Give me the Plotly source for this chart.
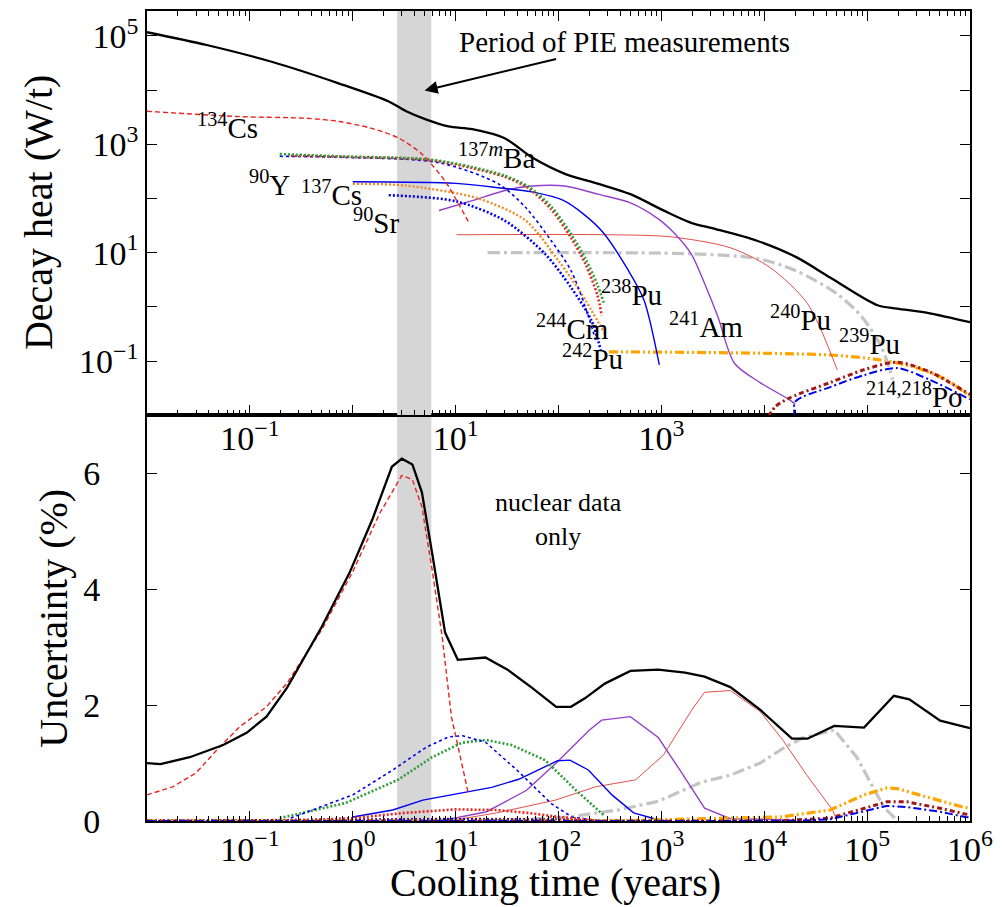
import math
import plotly.graph_objects as go

FONT = "Liberation Serif"

# ---------------- top panel : decay heat (W/t) ----------------
tot_t = [0.01, 0.038, 0.166, 0.74, 2.24, 3.31, 5.13, 8.5, 14.5, 30, 55, 117, 245, 500, 1070, 1950, 3310, 8500, 20900, 43700, 126000, 195000, 407000, 1000000]
tot_q = [117000, 68000, 33000, 13200, 6170, 4070, 2880, 2140, 1900, 1290, 575, 282, 186, 120, 59, 35.5, 27.5, 16.6, 8.1, 3.47, 1.07, 0.93, 0.76, 0.52]

cs134_t = [0.01, 0.079, 0.355, 0.74, 1.55, 2.82, 4.7, 7.9, 10.7, 13.5]
cs134_q = [4070, 3240, 3020, 2630, 1950, 1290, 660, 209, 79, 35.5]

ba137m_t = [0.195, 0.74, 5.5, 14.5, 30, 51, 85, 132, 182, 240, 275]
ba137m_q = [660, 600, 525, 380, 263, 166, 71, 22.4, 7.9, 2.5, 1.2]

y90_t = [0.25, 0.74, 5.5, 14.5, 30, 51, 85, 132, 182, 240, 263]
y90_q = [615, 590, 513, 363, 251, 155, 63, 19, 6.3, 1.6, 0.69]

cm244_t = [0.195, 0.74, 6.9, 26, 48, 85, 132, 182, 229]
cm244_q = [600, 575, 457, 186, 68, 16.6, 4.7, 1.0, 0.245]

cs137_t = [1.0, 3.2, 16.6, 48, 100, 166, 282]
cs137_q = [186, 174, 100, 39, 7.1, 1.78, 0.32]

sr90_t = [2.24, 10, 30, 74, 132, 209, 257]
sr90_q = [115, 89, 39, 9.5, 2.3, 0.56, 0.16]

pu238_t = [1.0, 10, 26, 55, 110, 174, 269, 468, 676, 955]
pu238_q = [204, 190, 158, 132, 93, 52, 24, 5.0, 1.35, 0.085]

am241_t = [6.9, 14.5, 32, 55, 115, 240, 500, 933, 1350, 1950, 2630, 3550, 5130, 9120, 17800, 20000]
am241_q = [60, 91, 145, 170, 170, 120, 83, 42, 22.4, 9.5, 2.7, 0.65, 0.091, 0.04, 0.019, 0.016]

pu240_t = [10.2, 316, 1260, 4680, 11500, 26300, 51300]
pu240_q = [21.4, 21.4, 19.5, 12.3, 5.25, 1.15, 0.068]

pu239_t = [20.4, 2000, 8500, 20000, 50100, 89100, 138000, 178000]
pu239_q = [10, 9.5, 7.8, 4.7, 1.78, 0.65, 0.18, 0.045]

pu242_t = [309, 43700, 132000, 282000, 589000, 1000000]
pu242_q = [0.148, 0.129, 0.105, 0.078, 0.045, 0.022]

poA_t = [11000, 12900, 17800, 43700, 93300, 195000, 407000, 1000000]
poA_q = [0.0095, 0.0145, 0.021, 0.040, 0.069, 0.095, 0.063, 0.024]

poB_t = [20000, 20000, 43700, 93300, 195000, 407000, 1000000]
poB_q = [0.009, 0.0178, 0.033, 0.055, 0.074, 0.045, 0.0195]

# ---------------- bottom panel : uncertainty (%) ----------------
u_tot_t = [0.01, 0.0135, 0.026, 0.055, 0.093, 0.145, 0.23, 0.28, 0.5, 0.93, 1.55, 2.4, 3.0, 3.8, 4.7, 5.9, 7.9, 10.5, 19.5, 32, 55, 95, 132, 182, 282, 500, 930, 1700, 2630, 4680, 9100, 18600, 26300, 47900, 93300, 182000, 257000, 513000, 1000000]
u_tot = [1.0, 0.98, 1.1, 1.31, 1.52, 1.8, 2.3, 2.56, 3.35, 4.28, 5.2, 6.11, 6.25, 6.15, 5.67, 4.63, 3.25, 2.78, 2.82, 2.61, 2.3, 1.97, 1.97, 2.12, 2.37, 2.59, 2.61, 2.56, 2.49, 2.31, 1.92, 1.42, 1.42, 1.64, 1.61, 2.16, 2.1, 1.73, 1.6]

u_cs134_t = [0.01, 0.0178, 0.030, 0.048, 0.079, 0.145, 0.23, 0.5, 1.0, 1.82, 3.0, 3.8, 4.7, 5.9, 7.4, 9.1, 13.2]
u_cs134 = [0.45, 0.59, 0.83, 1.23, 1.62, 1.97, 2.38, 3.3, 4.3, 5.3, 5.96, 5.89, 5.42, 4.34, 3.18, 1.8, 0.5]

u_cm244_t = [0.25, 0.41, 1.0, 2.45, 5.25, 8.5, 11.7, 19.5, 41, 85, 135, 250]
u_cm244 = [0.05, 0.19, 0.45, 0.88, 1.28, 1.45, 1.47, 1.36, 0.85, 0.3, 0.07, 0.0]

u_ba137m_t = [0.195, 0.85, 2.75, 5.9, 11.5, 19.5, 35, 74, 148, 275]
u_ba137m = [0.05, 0.31, 0.71, 1.1, 1.35, 1.4, 1.31, 1.05, 0.53, 0.1]

u_pu238_t = [1.0, 2.45, 4.8, 10.2, 22.4, 41, 98, 129, 195, 331, 537, 891, 1000]
u_pu238 = [0.07, 0.19, 0.36, 0.47, 0.58, 0.72, 1.04, 1.05, 0.88, 0.45, 0.14, 0.03, 0.02]

u_y90_t = [0.01, 0.25, 1, 3.2, 10, 25, 50, 100, 263]
u_y90 = [0.0, 0.0, 0.05, 0.14, 0.2, 0.19, 0.14, 0.07, 0.0]

u_cs137_t = [0.01, 1, 10, 100, 300]
u_cs137 = [0.0, 0.02, 0.04, 0.03, 0.0]

u_sr90_t = [0.01, 2.2, 10, 100, 250]
u_sr90 = [0.0, 0.02, 0.03, 0.02, 0.0]

u_am241_t = [7.1, 20, 49, 95, 200, 263, 500, 933, 1550, 2630, 4680, 20000]
u_am241 = [0.0, 0.16, 0.53, 1.0, 1.57, 1.74, 1.8, 1.44, 0.85, 0.22, 0.04, 0.02]

u_pu240_t = [10, 25, 93, 229, 562, 1050, 2000, 2630, 4680, 9120, 15100, 25700, 45700, 50000]
u_pu240 = [0.02, 0.14, 0.36, 0.59, 0.71, 1.14, 1.93, 2.22, 2.25, 1.89, 1.4, 0.8, 0.2, 0.05]

u_pu239_t = [20, 126, 380, 933, 2450, 4680, 9120, 15100, 23400, 47900, 79400, 107000, 145000, 186000]
u_pu239 = [0.0, 0.07, 0.19, 0.34, 0.67, 0.79, 1.0, 1.25, 1.43, 1.57, 1.1, 0.66, 0.24, 0.05]

u_pu242_t = [0.01, 310, 4680, 14500, 43700, 93300, 155000, 195000, 407000, 851000, 1000000]
u_pu242 = [0.0, 0.0, 0.05, 0.07, 0.19, 0.45, 0.57, 0.56, 0.4, 0.24, 0.22]

u_poA_t = [0.01, 12900, 43700, 93300, 155000, 245000, 513000, 891000, 1000000]
u_poA = [0.0, 0.0, 0.05, 0.22, 0.33, 0.33, 0.22, 0.12, 0.11]

u_poB_t = [0.01, 20000, 43700, 93300, 155000, 245000, 513000, 891000, 1000000]
u_poB = [0.0, 0.0, 0.03, 0.16, 0.26, 0.24, 0.16, 0.07, 0.06]

# PIE measurement period (years)
pie_period = [2.7, 5.8]

# nuclide labels (t, Q)
labels = [
    ("<sup>134</sup>Cs", 0.060, 2140),
    ("<sup>137<i>m</i></sup>Ba", 25, 600),
    ("<sup>90</sup>Y", 0.155, 190),
    ("<sup>137</sup>Cs", 0.62, 126),
    ("<sup>90</sup>Sr", 1.7, 39),
    ("<sup>238</sup>Pu", 513, 1.78),
    ("<sup>244</sup>Cm", 138, 0.42),
    ("<sup>241</sup>Am", 2690, 0.46),
    ("<sup>240</sup>Pu", 22400, 0.62),
    ("<sup>239</sup>Pu", 105000, 0.224),
    ("<sup>242</sup>Pu", 214, 0.117),
    ("<sup>214,218</sup>Po", 288000, 0.024),
]

# ---------------- styles ----------------
BLUE = "#0000ee"
GREEN = "#2e9e3a"
RED = "#e8231f"
ORANGE_DOT = "#f08a24"
PURPLE = "#9440c8"
PINK = "#e0504a"
GRAY = "#c4c4c4"
ORANGE = "#ffa500"
DARKRED = "#a01818"

styles = {
    "tot": dict(color="black", width=2.3, dash="solid"),
    "cs134": dict(color=RED, width=1.4, dash="5px,3px"),
    "ba137m": dict(color=GREEN, width=2.6, dash="2px,2px"),
    "y90": dict(color=RED, width=2.6, dash="2px,2px"),
    "cm244": dict(color=BLUE, width=1.6, dash="3px,3px"),
    "cs137": dict(color=ORANGE_DOT, width=2.4, dash="2px,2px"),
    "sr90": dict(color=BLUE, width=2.6, dash="2px,2px"),
    "pu238": dict(color=BLUE, width=1.4, dash="solid"),
    "am241": dict(color=PURPLE, width=1.4, dash="solid"),
    "pu240": dict(color=PINK, width=1.0, dash="solid"),
    "pu239": dict(color=GRAY, width=3.2, dash="12px,4px,3px,4px"),
    "pu242": dict(color=ORANGE, width=3.2, dash="9px,3px,2px,3px,2px,3px"),
    "poA": dict(color=DARKRED, width=3.0, dash="5px,3px,2px,3px"),
    "poB": dict(color=BLUE, width=2.0, dash="8px,3px,2px,3px"),
}

top_series = [
    ("pu242", pu242_t, pu242_q), ("pu239", pu239_t, pu239_q), ("pu240", pu240_t, pu240_q),
    ("am241", am241_t, am241_q), ("poA", poA_t, poA_q), ("poB", poB_t, poB_q),
    ("sr90", sr90_t, sr90_q), ("cs137", cs137_t, cs137_q), ("pu238", pu238_t, pu238_q),
    ("cm244", cm244_t, cm244_q), ("y90", y90_t, y90_q), ("ba137m", ba137m_t, ba137m_q),
    ("cs134", cs134_t, cs134_q), ("tot", tot_t, tot_q),
]
bot_series = [
    ("pu239", u_pu239_t, u_pu239), ("pu240", u_pu240_t, u_pu240), ("am241", u_am241_t, u_am241),
    ("pu238", u_pu238_t, u_pu238), ("ba137m", u_ba137m_t, u_ba137m), ("cm244", u_cm244_t, u_cm244),
    ("cs137", u_cs137_t, u_cs137), ("sr90", u_sr90_t, u_sr90), ("y90", u_y90_t, u_y90),
    ("pu242", u_pu242_t, u_pu242), ("poA", u_poA_t, u_poA), ("poB", u_poB_t, u_poB),
    ("cs134", u_cs134_t, u_cs134), ("tot", u_tot_t, u_tot),
]

fig = go.Figure()

# gray band (both panels)
fig.add_trace(go.Scatter(x=[pie_period[0], pie_period[1], pie_period[1], pie_period[0]],
                         y=[1e-4, 1e-4, 1e7, 1e7], fill="toself", fillcolor="#d6d6d6",
                         line=dict(width=0), mode="lines", xaxis="x2", yaxis="y2",
                         hoverinfo="skip", showlegend=False))
fig.add_trace(go.Scatter(x=[pie_period[0], pie_period[1], pie_period[1], pie_period[0]],
                         y=[-1, -1, 9, 9], fill="toself", fillcolor="#d6d6d6",
                         line=dict(width=0), mode="lines", xaxis="x", yaxis="y",
                         hoverinfo="skip", showlegend=False))

for key, t, q in top_series:
    st = styles[key]
    fig.add_trace(go.Scatter(x=t, y=q, mode="lines", xaxis="x2", yaxis="y2",
                             line=dict(color=st["color"], width=st["width"], dash=st["dash"],
                                       shape="spline", smoothing=0.8),
                             showlegend=False, name=key))
for key, t, u in bot_series:
    st = styles[key]
    fig.add_trace(go.Scatter(x=t, y=u, mode="lines", xaxis="x", yaxis="y",
                             line=dict(color=st["color"], width=st["width"], dash=st["dash"]),
                             showlegend=False, name=key))

MINUS = "\u2212"
def pow_label(k):
    return "10<sup>" + (MINUS + str(-k) if k < 0 else str(k)) + "</sup>"

minor_vals = [m * 10 ** k for k in range(-2, 6) for m in range(2, 10)]

tickfont = dict(family=FONT, size=34, color="black")
common_x = dict(type="log", range=[-2, 6], showgrid=False, zeroline=False,
                showline=True, linecolor="black", linewidth=1.8,
                ticks="inside", ticklen=10, tickwidth=1.3, tickcolor="black",
                minor=dict(tickmode="array", tickvals=minor_vals, ticks="inside",
                           ticklen=5, tickwidth=1, tickcolor="black"),
                tickfont=tickfont)

# body margin of the page is 8px, so the figure is 8px smaller than the window
fig.update_layout(
    width=998, height=899,
    margin=dict(l=139, r=36, t=1, b=86),
    plot_bgcolor="white", paper_bgcolor="white",
    font=dict(family=FONT, color="black"),
    xaxis=dict(common_x, domain=[0, 1], anchor="y", mirror=True,
               tickvals=[10 ** k for k in range(-1, 7)],
               ticktext=[pow_label(k) for k in range(-1, 7)], ticklabelstandoff=-3),
    xaxis2=dict(common_x, domain=[0, 1], anchor="y2", mirror="ticks",
                tickvals=[10 ** k for k in range(-2, 7)],
                ticktext=[pow_label(k) if k in (-1, 1, 3) else "" for k in range(-2, 7)],
                ticklabelstandoff=-8),
    yaxis=dict(domain=[0, 0.501], anchor="x", range=[0, 7], showgrid=False, zeroline=False,
               showline=True, linecolor="black", linewidth=1.8, mirror="ticks",
               ticks="inside", ticklen=10, tickwidth=1.3, tickcolor="black",
               tickvals=[0, 2, 4, 6], tickfont=tickfont, ticklabelstandoff=38),
    yaxis2=dict(domain=[0.501, 1], anchor="x2", type="log", range=[-2, 5.46],
                showgrid=False, zeroline=False,
                showline=True, linecolor="black", linewidth=1.8, mirror="ticks",
                ticks="inside", ticklen=10, tickwidth=1.3, tickcolor="black",
                tickvals=[10 ** k for k in range(-2, 6)],
                ticktext=[pow_label(k) if k % 2 else "" for k in range(-2, 6)],
                tickfont=tickfont),
)

annos = []
for txt, t, q in labels:
    annos.append(dict(x=math.log10(t), y=math.log10(q), xref="x2", yref="y2", text=txt,
                      showarrow=False, font=dict(family=FONT, size=29, color="black"),
                      xanchor="center", yanchor="middle"))
annos.append(dict(x=math.log10(437), y=math.log10(77600), xref="x2", yref="y2",
                  text="Period of PIE measurements", showarrow=False,
                  xanchor="center", yanchor="middle",
                  font=dict(family=FONT, size=29, color="black")))
annos.append(dict(x=math.log10(5.0), y=math.log10(9800), xref="x2", yref="y2", text="",
                  showarrow=True, arrowhead=2, arrowsize=1.3, arrowwidth=2, arrowcolor="black",
                  ax=133, ay=-32))
annos.append(dict(x=2.0, y=5.2, xref="x", yref="y", text="nuclear data<br>only",
                  showarrow=False, xanchor="center", yanchor="middle",
                  font=dict(family=FONT, size=26, color="black")))
title_font = dict(family=FONT, size=40, color="black")
annos.append(dict(x=-0.132, y=0.751, xref="paper", yref="paper", text="Decay heat (W/t)",
                  textangle=-90, showarrow=False, xanchor="center", yanchor="middle",
                  font=title_font))
annos.append(dict(x=-0.114, y=0.25, xref="paper", yref="paper", text="Uncertainty (%)",
                  textangle=-90, showarrow=False, xanchor="center", yanchor="middle",
                  font=title_font))
annos.append(dict(x=0.496, y=-0.076, xref="paper", yref="paper", text="Cooling time (years)",
                  showarrow=False, xanchor="center", yanchor="middle", font=title_font))
fig.update_layout(annotations=annos)

fig.write_html("out.html")
